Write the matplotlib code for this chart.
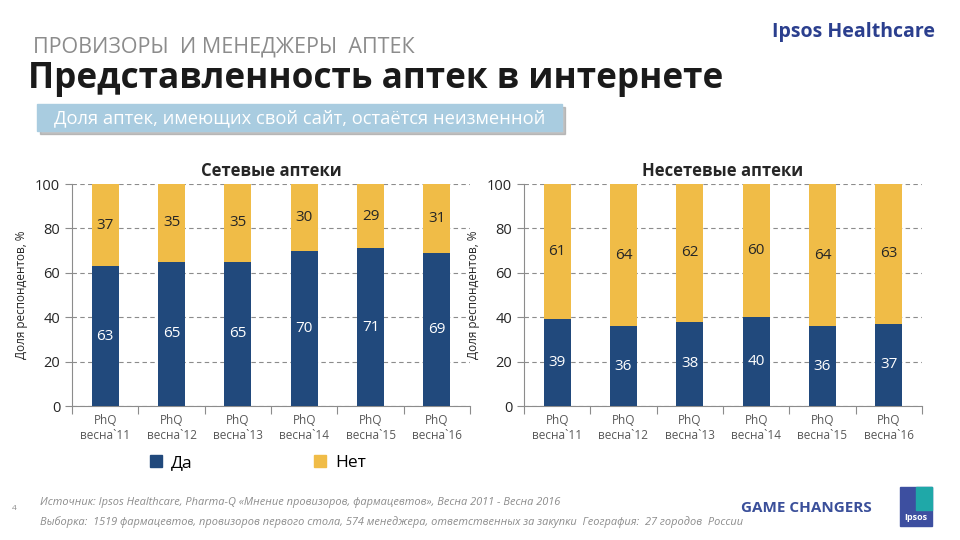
import matplotlib
matplotlib.use("Agg")
import matplotlib.pyplot as plt
from matplotlib.patches import Rectangle, Patch
import numpy as np

plt.rcParams['font.family'] = ['Open Sans', 'DejaVu Sans']

periods = ["PhQ\nвесна`11", "PhQ\nвесна`12", "PhQ\nвесна`13",
           "PhQ\nвесна`14", "PhQ\nвесна`15", "PhQ\nвесна`16"]
chain_yes = [63, 65, 65, 70, 71, 69]
chain_no = [37, 35, 35, 30, 29, 31]
single_yes = [39, 36, 38, 40, 36, 37]
single_no = [61, 64, 62, 60, 64, 63]
series_names = ["Да", "Нет"]

BLUE = "#21497C"
YELLOW = "#F0BC47"
GRAY = "#595959"

fig = plt.figure(figsize=(9.6, 5.4), dpi=100)


def draw_panel(ax, yes, no, title):
    x = np.arange(len(periods))
    ax.bar(x, yes, width=0.41, color=BLUE, zorder=3)
    ax.bar(x, no, width=0.41, bottom=yes, color=YELLOW, zorder=3)
    for i in range(len(x)):
        ax.text(x[i], yes[i] / 2, str(yes[i]), ha='center', va='center',
                color='white', fontsize=11, zorder=4)
        ax.text(x[i], yes[i] + no[i] / 2, str(no[i]), ha='center', va='center',
                color='#262626', fontsize=11, zorder=4)
    ax.set_xlim(-0.5, len(x) - 0.5)
    ax.set_ylim(0, 100)
    ax.set_yticks([0, 20, 40, 60, 80, 100])
    ax.yaxis.grid(True, linestyle=(0, (4, 3)), color='#8c8c8c', linewidth=0.8, zorder=0)
    ax.set_xticks(np.arange(-0.5, len(x)), labels=[''] * (len(x) + 1))
    ax.set_xticks(x, labels=periods, minor=True)
    ax.tick_params(axis='x', which='major', length=6, color='#8c8c8c', direction='out')
    ax.tick_params(axis='x', which='minor', length=0, pad=6, labelsize=8.5, labelcolor=GRAY)
    ax.tick_params(axis='y', length=5, color='#8c8c8c', labelsize=10.5, labelcolor='#262626')
    for s in ['top', 'right']:
        ax.spines[s].set_visible(False)
    for s in ['left', 'bottom']:
        ax.spines[s].set_color('#8c8c8c')
    ax.set_title(title, fontsize=12, fontweight='bold', color='#262626', pad=6)


ax1 = fig.add_axes([0.075, 0.2481, 0.4146, 0.4111])
ax2 = fig.add_axes([0.5458, 0.2481, 0.4146, 0.4111])
draw_panel(ax1, chain_yes, chain_no, "Сетевые аптеки")
draw_panel(ax2, single_yes, single_no, "Несетевые аптеки")

fig.text(22 / 960, 1 - 295 / 540, "Доля респондентов, %", rotation=90,
         ha='center', va='center', fontsize=8.5, color='#262626')
fig.text(473 / 960, 1 - 295 / 540, "Доля респондентов, %", rotation=90,
         ha='center', va='center', fontsize=8.5, color='#262626')

handles = [Patch(color=BLUE), Patch(color=YELLOW)]
fig.legend(handles, series_names, loc='center', bbox_to_anchor=(258 / 960, 1 - 463 / 540),
           ncol=2, frameon=False, columnspacing=7, handlelength=0.7, handleheight=0.7,
           handletextpad=0.5, fontsize=12.5)

# header
fig.text(33 / 960, 1 - 47 / 540, "ПРОВИЗОРЫ  И МЕНЕДЖЕРЫ  АПТЕК", fontsize=15.5,
         color='#8c8c8c', va='center', ha='left')
fig.text(28 / 960, 1 - 79 / 540, "Представленность аптек в интернете", fontsize=25.3,
         fontweight='bold', color='#1a1a1a', va='center', ha='left')
fig.text(935 / 960, 1 - 32 / 540, "Ipsos Healthcare", fontsize=14, fontweight='bold',
         color='#2B3F8E', va='center', ha='right')

fig.patches.append(Rectangle((40 / 960, 1 - 134 / 540), 525 / 960, 27 / 540,
                             transform=fig.transFigure, color='#9a9a9a', alpha=0.6))
fig.patches.append(Rectangle((37 / 960, 1 - 131 / 540), 525 / 960, 27 / 540,
                             transform=fig.transFigure, color='#A9CCE0'))
fig.text(300 / 960, 1 - 118 / 540, "Доля аптек, имеющих свой сайт, остаётся неизменной",
         fontsize=13.2, color='white', ha='center', va='center')

# footer
fig.text(12 / 960, 1 - 509 / 540, "4", fontsize=6, color='#8c8c8c', va='center')
fig.text(40 / 960, 1 - 503 / 540,
         "Источник: Ipsos Healthcare, Pharma-Q «Мнение провизоров, фармацевтов», Весна 2011 - Весна 2016",
         fontsize=7.9, style='italic', color='#8c8c8c', va='center')
fig.text(40 / 960, 1 - 522 / 540,
         "Выборка:  1519 фармацевтов, провизоров первого стола, 574 менеджера, ответственных за закупки  География:  27 городов  России",
         fontsize=7.9, style='italic', color='#8c8c8c', va='center')
fig.text(872 / 960, 1 - 508 / 540, "GAME CHANGERS", fontsize=11, fontweight='bold',
         color='#3A4F9A', ha='right', va='center')
fig.patches.append(Rectangle((900 / 960, 1 - 526 / 540), 32 / 960, 39 / 540,
                             transform=fig.transFigure, color='#3D4FA0'))
fig.patches.append(Rectangle((916 / 960, 1 - 510 / 540), 16 / 960, 23 / 540,
                             transform=fig.transFigure, color='#1FA8A8'))
fig.text(916 / 960, 1 - 517 / 540, "Ipsos", fontsize=6.5, fontweight='bold',
         color='white', ha='center', va='center')

fig.savefig("out.png", dpi=100)
